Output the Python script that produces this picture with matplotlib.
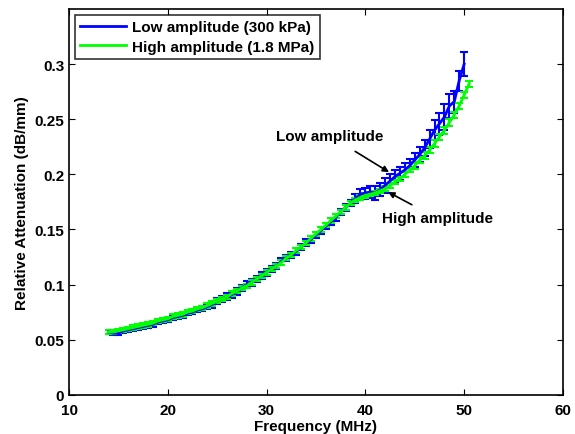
import numpy as np
import matplotlib
matplotlib.use("Agg")
import matplotlib.pyplot as plt
from matplotlib.lines import Line2D

plt.rcParams['font.family'] = ['Liberation Sans', 'DejaVu Sans']
plt.rcParams['font.weight'] = 'bold'

## Données
freq_low = np.arange(14.0, 50.01, 0.5)
att_low = [0.057, 0.056, 0.056, 0.058, 0.059, 0.060, 0.061, 0.062, 0.063, 0.064,
           0.066, 0.067, 0.068, 0.070, 0.071, 0.072, 0.074, 0.075, 0.077, 0.078,
           0.080, 0.082, 0.085, 0.087, 0.089, 0.091, 0.094, 0.097, 0.100, 0.102,
           0.105, 0.108, 0.111, 0.114, 0.117, 0.121, 0.124, 0.127, 0.130, 0.134,
           0.138, 0.141, 0.145, 0.149, 0.153, 0.157, 0.161, 0.166, 0.170, 0.174,
           0.178, 0.182, 0.183, 0.184, 0.183, 0.186, 0.190, 0.194, 0.198, 0.201,
           0.204, 0.208, 0.213, 0.218, 0.224, 0.232, 0.240, 0.246, 0.252, 0.262,
           0.266, 0.285, 0.300]
err_low = [0.002, 0.002, 0.002, 0.002, 0.002, 0.002, 0.002, 0.002, 0.002, 0.002,
           0.002, 0.002, 0.002, 0.002, 0.002, 0.002, 0.002, 0.002, 0.002, 0.002,
           0.002, 0.003, 0.003, 0.003, 0.003, 0.003, 0.003, 0.003, 0.003, 0.003,
           0.003, 0.003, 0.003, 0.003, 0.003, 0.003, 0.003, 0.003, 0.003, 0.003,
           0.003, 0.003, 0.003, 0.003, 0.003, 0.003, 0.003, 0.003, 0.003, 0.003,
           0.004, 0.005, 0.005, 0.005, 0.006, 0.006, 0.007, 0.006, 0.006, 0.006,
           0.006, 0.006, 0.006, 0.007, 0.007, 0.008, 0.009, 0.010, 0.012, 0.011,
           0.010, 0.009, 0.011]

freq_high = np.arange(14.0, 50.51, 0.5)
att_high = [0.057, 0.057, 0.058, 0.059, 0.060, 0.061, 0.062, 0.063, 0.064, 0.065,
            0.067, 0.068, 0.069, 0.071, 0.072, 0.073, 0.075, 0.076, 0.078, 0.079,
            0.081, 0.083, 0.085, 0.087, 0.089, 0.092, 0.094, 0.097, 0.099, 0.102,
            0.105, 0.108, 0.111, 0.114, 0.117, 0.120, 0.124, 0.127, 0.131, 0.134,
            0.138, 0.142, 0.146, 0.150, 0.154, 0.158, 0.162, 0.166, 0.170, 0.174,
            0.177, 0.179, 0.181, 0.182, 0.183, 0.185, 0.187, 0.190, 0.193, 0.196,
            0.200, 0.204, 0.208, 0.213, 0.217, 0.222, 0.228, 0.234, 0.240, 0.247,
            0.254, 0.262, 0.272, 0.282]
err_high = [0.002] * 62 + [0.003] * 12

## Figure
fig = plt.figure(figsize=(5.75, 4.35), dpi=100)
ax = fig.add_axes([0.12, 0.09, 0.859, 0.887])

ax.errorbar(freq_low, att_low, yerr=err_low, color='#0000ff', lw=2,
            elinewidth=1.5, capsize=3, capthick=1.5)
ax.errorbar(freq_high, att_high, yerr=err_high, color='#00ff00', lw=2,
            elinewidth=1.5, capsize=3, capthick=1.5)

ax.annotate('Low amplitude', xy=(42.4, 0.202), xytext=(36.4, 0.235),
            ha='center', va='center', fontsize=11, fontweight='bold',
            arrowprops=dict(arrowstyle='-|>', color='black', lw=1.2,
                            mutation_scale=9, shrinkA=8, shrinkB=0))
ax.annotate('High amplitude', xy=(42.3, 0.184), xytext=(47.3, 0.160),
            ha='center', va='center', fontsize=11, fontweight='bold',
            arrowprops=dict(arrowstyle='-|>', color='black', lw=1.2,
                            mutation_scale=9, shrinkA=6, shrinkB=0))

ax.set_xlim(10, 60)
ax.set_ylim(0, 0.35)
ax.set_xticks([10, 20, 30, 40, 50, 60])
ax.set_yticks([0, 0.05, 0.1, 0.15, 0.2, 0.25, 0.3])
ax.set_yticklabels(['0', '0.05', '0.1', '0.15', '0.2', '0.25', '0.3'])
ax.tick_params(direction='in', top=True, right=True, labelsize=11, length=4)
ax.tick_params(axis='x', pad=6)
for s in ax.spines.values():
    s.set_linewidth(1.2)

ax.set_xlabel('Frequency (MHz)', fontsize=11, fontweight='bold', labelpad=1)
ax.set_ylabel('Relative Attenuation (dB/mm)', fontsize=11, fontweight='bold', labelpad=4)

handles = [Line2D([], [], color='#0000ff', lw=2),
           Line2D([], [], color='#00ff00', lw=2)]
leg = ax.legend(handles, ['Low amplitude (300 kPa)', 'High amplitude (1.8 MPa)'],
                loc='upper left', fontsize=11, frameon=True, fancybox=False,
                edgecolor='black', handlelength=3.0, borderaxespad=0.4,
                labelspacing=0.35, borderpad=0.35, handletextpad=0.4)
leg.get_frame().set_linewidth(1.2)

fig.savefig('out.png', dpi=100)
